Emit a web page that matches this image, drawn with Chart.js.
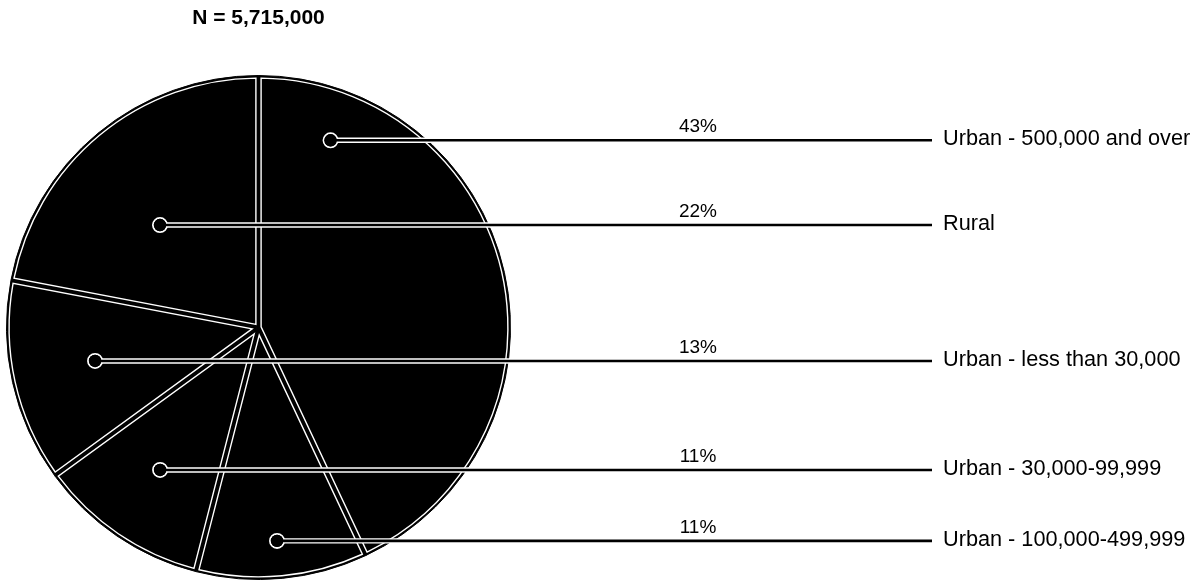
<!DOCTYPE html>
<html>
<head>
<meta charset="utf-8">
<script src="https://cdn.jsdelivr.net/npm/chart.js@4"></script>
<style>
html,body{margin:0;padding:0;background:#fff;}
#wrap{width:1198px;height:583px;position:relative;}
</style>
</head>
<body>
<div id="wrap"><canvas id="c" width="1198" height="583"></canvas></div>
<script>
// ---- data ----
const categories = ["Urban - 500,000 and over", "Urban - 100,000-499,999", "Urban - 30,000-99,999", "Urban - less than 30,000", "Rural"];
const shares = [43, 11, 11, 13, 22];
const percentLabels = ["43%", "11%", "11%", "13%", "22%"];
const chartTitle = "N = 5,715,000";

// ---- layout (marker placement inside each slice: fraction along slice angle, fraction of radius) ----
const leaderLayout = [
  {t: 0.136, r: 0.796},
  {t: 0.511, r: 0.850},
  {t: 0.511, r: 0.687},
  {t: 0.522, r: 0.662},
  {t: 0.446, r: 0.564}
];
const FONT = "'Liberation Sans', Arial, Helvetica, sans-serif";
const LINE_END_X = 932;
const PCT_X = 698;
const LABEL_X = 943;

const insetPlugin = {
  id: 'insetOutline',
  afterDatasetsDraw(chart) {
    const ctx = chart.ctx;
    const meta = chart.getDatasetMeta(0);
    const d = 2.6;
    ctx.save();
    ctx.strokeStyle = '#fff';
    ctx.lineWidth = 1.4;
    ctx.lineJoin = 'miter';
    meta.data.forEach(arc => {
      const p = arc.getProps(['x', 'y', 'startAngle', 'endAngle', 'outerRadius'], true);
      const alpha = p.endAngle - p.startAngle;
      const mid = (p.startAngle + p.endAngle) / 2;
      const apex = d / Math.sin(alpha / 2);
      const r = p.outerRadius - d;
      const da = Math.asin(d / r);
      ctx.beginPath();
      ctx.moveTo(p.x + Math.cos(mid) * apex, p.y + Math.sin(mid) * apex);
      ctx.arc(p.x, p.y, r, p.startAngle + da, p.endAngle - da);
      ctx.closePath();
      ctx.stroke();
    });
    ctx.restore();
  }
};

const leaderPlugin = {
  id: 'leaders',
  afterDraw(chart) {
    const ctx = chart.ctx;
    const meta = chart.getDatasetMeta(0);
    ctx.save();
    meta.data.forEach((arc, i) => {
      const p = arc.getProps(['x', 'y', 'startAngle', 'endAngle', 'outerRadius'], true);
      const lay = leaderLayout[i];
      const ang = p.startAngle + (p.endAngle - p.startAngle) * lay.t;
      const rr = p.outerRadius * lay.r;
      const mx = p.x + Math.cos(ang) * rr;
      const my = p.y + Math.sin(ang) * rr;
      // white halo
      ctx.strokeStyle = '#fff';
      ctx.lineWidth = 5.4;
      ctx.beginPath(); ctx.moveTo(mx + 6, my); ctx.lineTo(LINE_END_X, my); ctx.stroke();
      ctx.lineWidth = 1.8;
      ctx.beginPath(); ctx.arc(mx, my, 7.1, 0, Math.PI * 2); ctx.stroke();
      // black core
      ctx.fillStyle = '#000';
      ctx.beginPath(); ctx.arc(mx, my, 6.2, 0, Math.PI * 2); ctx.fill();
      ctx.strokeStyle = '#000';
      ctx.lineWidth = 2.6;
      ctx.beginPath(); ctx.moveTo(mx + 5, my); ctx.lineTo(LINE_END_X, my); ctx.stroke();
      // texts
      ctx.fillStyle = '#000';
      ctx.font = '19px ' + FONT;
      ctx.textAlign = 'center';
      ctx.textBaseline = 'alphabetic';
      ctx.fillText(percentLabels[i], PCT_X, my - 8);
      ctx.font = '21.7px ' + FONT;
      ctx.textAlign = 'left';
      ctx.textBaseline = 'middle';
      ctx.fillText(categories[i], LABEL_X, my - 1);
    });
    // title
    const cx = meta.data[0].x;
    ctx.font = 'bold 21px ' + FONT;
    ctx.textAlign = 'center';
    ctx.textBaseline = 'middle';
    ctx.fillStyle = '#000';
    ctx.fillText(chartTitle, cx, 18);
    ctx.restore();
  }
};

new Chart(document.getElementById('c'), {
  type: 'pie',
  data: {
    labels: categories,
    datasets: [{
      data: shares,
      backgroundColor: '#000',
      borderColor: '#000',
      borderWidth: 1
    }]
  },
  options: {
    responsive: false,
    animation: false,
    events: [],
    layout: {padding: {left: 6, right: 687, top: 75, bottom: 3}},
    plugins: {
      legend: {display: false},
      tooltip: {enabled: false},
      title: {display: false}
    }
  },
  plugins: [insetPlugin, leaderPlugin]
});
</script>
</body>
</html>
